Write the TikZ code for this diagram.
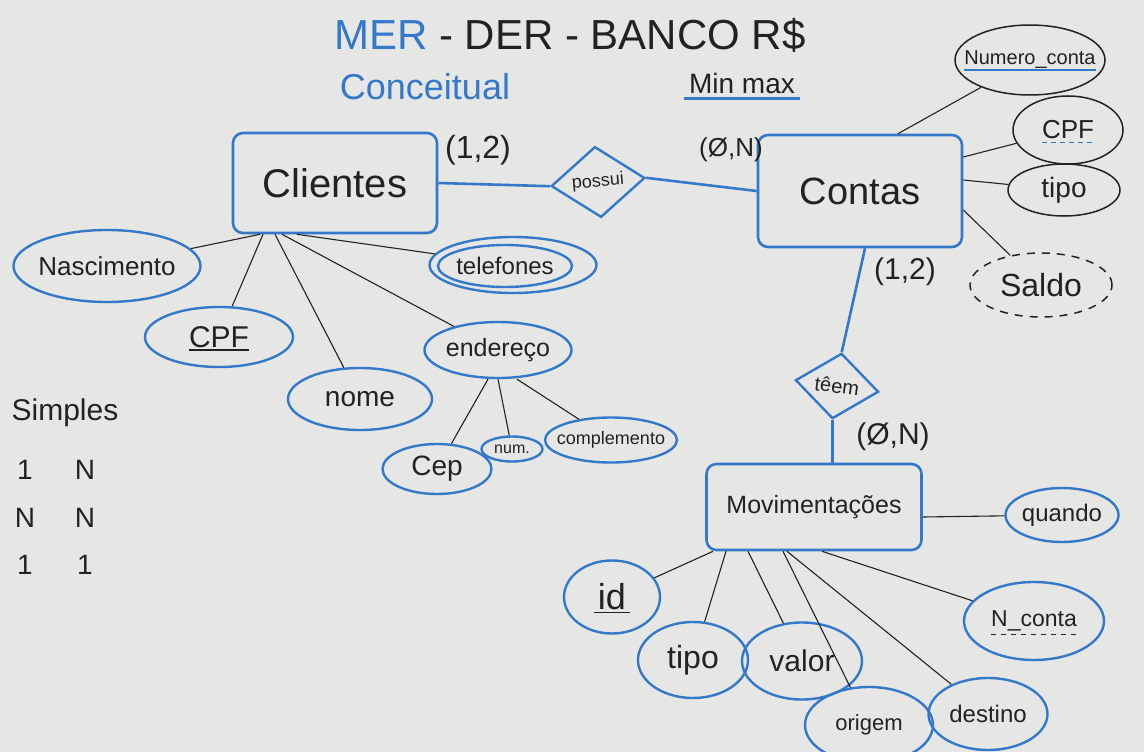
\documentclass[tikz,border=0pt]{standalone}
\usepackage{fontspec}
\setmainfont{Liberation Sans}
\usetikzlibrary{shapes.geometric}
\definecolor{mblue}{HTML}{3479C9}
\definecolor{mblack}{HTML}{222222}
\definecolor{board}{HTML}{E6E6E4}
\newcommand\tsz[1]{\fontsize{#1}{#1}\selectfont}
\begin{document}
\begin{tikzpicture}[x=1pt,y=-1pt,
  ent/.style={draw=mblue, line width=2.6pt, rounded corners=10pt, inner sep=0pt, text=mblack},
  rel/.style={diamond, draw=mblue, line width=2.4pt, inner sep=0pt, text=mblack},
  attrb/.style={ellipse, draw=mblue, line width=2.4pt, inner sep=0pt},
  attrk/.style={ellipse, draw=mblack, line width=1.5pt, inner sep=0pt},
  lnk/.style={draw=mblack, line width=1.1pt},
  blnk/.style={draw=mblue, line width=2.6pt},
  txt/.style={text=mblack, inner sep=0pt},
  card/.style={text=mblack, inner sep=0pt, font=\tsz{30}},
  uline/.style={line width=1.6pt}
]
\useasboundingbox (0,0) rectangle (1144,752);
\fill[board] (0,0) rectangle (1144,752);

% titles
\node[txt, font=\tsz{42}] (title) at (570,35) {{\color{mblue}MER} - DER - BANCO R\$};
\node[txt, text=mblue, font=\tsz{36}] (conc) at (425,87) {Conceitual};
\node[txt, font=\tsz{28}] (mm) at (742,83) {Min max};
\draw[draw=mblue, line width=2.4pt] ([xshift=-5pt,yshift=-5pt]mm.south west) -- ([xshift=5pt,yshift=-5pt]mm.south east);

% entities
\node[ent, minimum width=204pt, minimum height=100pt, font=\tsz{40}] (cli) at (335,183) {Clientes};
\node[ent, minimum width=204pt, minimum height=112pt, font=\tsz{38}] (con) at (860,191) {Contas};
\node[ent, minimum width=215pt, minimum height=86pt, font=\tsz{25}] (mov) at (814,507) {Movimentações};

% relationships
\node[rel, rotate=5, minimum width=94pt, minimum height=71pt, font=\tsz{18}] (pos) at (598,182) {possui};
\node[rel, rotate=-8, minimum width=84pt, minimum height=66pt, font=\tsz{20}] (tem) at (837,386) {têem};

% cardinalities
\node[card, font=\tsz{32}] (c1) at (478,150) {(1,2)};
\node[card, font=\tsz{26}] (c2) at (731,150) {(Ø,N)};
\node[card] (c3) at (905,272) {(1,2)};
\node[card] (c4) at (893,437) {(Ø,N)};

% Clientes attributes
\node[attrb, minimum width=187pt, minimum height=72pt, label={[txt,font=\tsz{26}]center:Nascimento}] (nasc) at (107,266) {};
\node[attrb, minimum width=148pt, minimum height=60pt, label={[txt,font=\tsz{30},name=cpfal]center:CPF}] (cpfa) at (219,337) {};
\node[attrb, minimum width=144pt, minimum height=62pt, label={[txt,font=\tsz{28}]center:nome}] (nome) at (360,399) {};
\node[attrb, minimum width=167pt, minimum height=56pt] (tel) at (513,265) {};
\node[attrb, minimum width=134pt, minimum height=42pt, label={[txt,font=\tsz{24}]center:telefones}] (teli) at (505,266) {};
\node[attrb, minimum width=147pt, minimum height=56pt, label={[txt,font=\tsz{25}]center:endereço}] (ende) at (498,350) {};
\node[attrb, minimum width=109pt, minimum height=50pt, label={[txt,font=\tsz{28}]center:Cep}] (cep) at (437,469) {};
\node[attrb, minimum width=61pt, minimum height=25pt, label={[txt,font=\tsz{16}]center:num.}] (num) at (512,449) {};
\node[attrb, minimum width=132pt, minimum height=45pt, label={[txt,font=\tsz{18}]center:complemento}] (comp) at (611,440) {};

% Contas attributes
\node[attrk, minimum width=150pt, minimum height=70pt, label={[txt,font=\tsz{20},name=ncl]center:Numero\_conta}] (numc) at (1030,60) {};
\node[attrk, minimum width=110pt, minimum height=68pt, label={[txt,font=\tsz{26},name=cpfbl]center:CPF}] (cpfb) at (1068,130) {};
\node[attrk, minimum width=112pt, minimum height=52pt, label={[txt,font=\tsz{28}]center:tipo}] (tipoa) at (1064,190) {};
\node[attrk, dashed, dash pattern=on 8pt off 7pt, minimum width=142pt, minimum height=64pt, label={[txt,font=\tsz{32}]center:Saldo}] (saldo) at (1041,285) {};

% Movimentacoes attributes
\node[attrb, minimum width=113pt, minimum height=54pt, label={[txt,font=\tsz{24}]center:quando}] (quando) at (1062,515) {};
\node[attrb, minimum width=96pt, minimum height=73pt, label={[txt,font=\tsz{36},name=idl]center:id}] (idn) at (612,597) {};
\node[attrb, minimum width=110pt, minimum height=76pt, label={[txt,font=\tsz{32}]center:tipo}] (tipob) at (693,660) {};
\node[attrb, minimum width=120pt, minimum height=77pt, label={[txt,font=\tsz{30}]center:valor}] (valor) at (802,661) {};
\node[attrb, minimum width=128pt, minimum height=76pt, label={[txt,font=\tsz{22}]center:origem}] (orig) at (869,725) {};
\node[attrb, minimum width=119pt, minimum height=72pt, label={[txt,font=\tsz{24}]center:destino}] (dest) at (988,714) {};
\node[attrb, minimum width=140pt, minimum height=78pt, label={[txt,font=\tsz{23},name=ncol]center:N\_conta}] (ncon) at (1034,621) {};

% underlines
\draw[draw=mblue, line width=2.4pt] ([yshift=-1pt]ncl.south west) -- ([yshift=-1pt]ncl.south east);
\draw[draw=mblue, uline, dashed, dash pattern=on 5pt off 4pt] ([yshift=-3pt]cpfbl.south west) -- ([yshift=-3pt]cpfbl.south east);
\draw[draw=mblack, uline] ([yshift=-2pt]cpfal.south west) -- ([yshift=-2pt]cpfal.south east);
\draw[draw=mblack, uline] ([xshift=-4pt,yshift=-2pt]idl.south west) -- ([xshift=4pt,yshift=-2pt]idl.south east);
\draw[draw=mblack, uline, dashed, dash pattern=on 5pt off 5pt] ([yshift=-3pt]ncol.south west) -- ([yshift=-3pt]ncol.south east);

% relationship connectors
\draw[blnk] (cli.east) -- (pos.west);
\draw[blnk] (pos.east) -- (con.west);
\draw[blnk] ([xshift=5pt]con.south) -- (tem.north);
\draw[blnk] (tem.south) -- (tem.south |- mov.north);

% attribute connectors
\draw[lnk] ([xshift=-75pt]cli.south) -- (nasc);
\draw[lnk] ([xshift=-72pt]cli.south) -- (cpfa);
\draw[lnk] ([xshift=-60pt]cli.south) -- (nome);
\draw[lnk] ([xshift=-53pt]cli.south) -- (ende);
\draw[lnk] ([xshift=-38pt]cli.south) -- (tel);
\draw[lnk] ([xshift=-10pt]ende.south) -- (cep);
\draw[lnk] (ende.south) -- (num);
\draw[lnk] ([xshift=19pt]ende.south) -- (comp);

\draw[lnk] ([xshift=38pt]con.north) -- (numc);
\draw[lnk] ([yshift=34pt]con.east) -- (cpfb);
\draw[lnk] ([yshift=11pt]con.east) -- (tipoa);
\draw[lnk] ([yshift=-19pt]con.east) -- (saldo);

\draw[lnk] ([yshift=-10pt]mov.east) -- (quando);
\draw[lnk] ([xshift=-101pt]mov.south) -- (idn);
\draw[lnk] ([xshift=-88pt]mov.south) -- (tipob);
\draw[lnk] ([xshift=-66pt]mov.south) -- (valor);
\draw[lnk] ([xshift=-31pt]mov.south) -- (orig);
\draw[lnk] ([xshift=-27pt]mov.south) -- (dest);
\draw[lnk] ([xshift=8pt]mov.south) -- (ncon);

% notes
\node[txt, font=\tsz{30}] (simp) at (65,413) {Simples};
\node[txt, font=\tsz{28}] (r1a) at (25,470) {1};
\node[txt, font=\tsz{28}] (r1b) at (85,470) {N};
\node[txt, font=\tsz{28}] (r2a) at (25,518) {N};
\node[txt, font=\tsz{28}] (r2b) at (85,518) {N};
\node[txt, font=\tsz{28}] (r3a) at (25,565) {1};
\node[txt, font=\tsz{28}] (r3b) at (85,565) {1};
\end{tikzpicture}
\end{document}
